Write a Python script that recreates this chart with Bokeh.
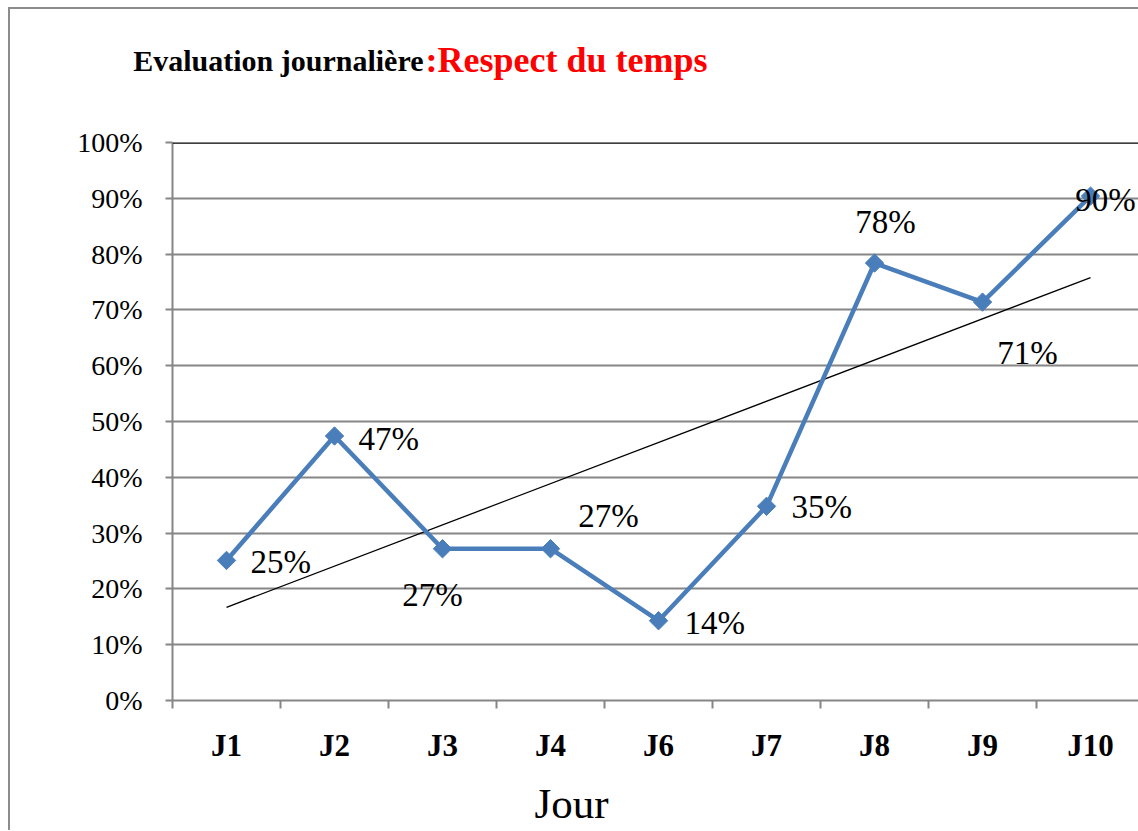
import numpy as np
from bokeh.plotting import figure
from bokeh.layouts import column
from bokeh.models import (ColumnDataSource, FixedTicker, NumeralTickFormatter,
                          Range1d, Span)
from bokeh.embed import file_html
from bokeh.resources import INLINE
from bokeh.core.properties import value

# ---- data ----
days = ["J1", "J2", "J3", "J4", "J6", "J7", "J8", "J9", "J10"]
rates = [0.251, 0.474, 0.272, 0.272, 0.143, 0.348, 0.784, 0.714, 0.904]
y_ticks = [0.0, 0.1, 0.2, 0.3, 0.4, 0.5, 0.6, 0.7, 0.8, 0.9, 1.0]
title_black = "Evaluation journalière"
title_red = ":Respect du temps"
x_title = "Jour"

# ---- label placement (pixels, style only) ----
label_dx = [24, 24, -10, 58, 26, 25, 11, 45, 15]
label_dy = [2, 3, 46, -33, 2, 1, -41, 51, 4]
label_align = ["left", "left", "center", "center", "left", "left", "center", "center", "center"]

SERIF = "Liberation Serif"
GRAY = "#868686"
BLUE = "#4a7ebb"

xs = list(range(len(days)))
labels = [f"{round(v * 100):.0f}%" for v in rates]
src = ColumnDataSource(dict(x=xs, y=rates, lab=labels, dx=label_dx,
                            dy=label_dy, al=label_align))

# linear trend line computed from the series
coef = np.polyfit(xs, rates, 1)
trend_y = [coef[0] * x + coef[1] for x in (xs[0], xs[-1])]

W = 1128


def no_align(fig):
    try:
        fig.frame_align = False
    except Exception:
        pass


def strip(height):
    f = figure(width=W, height=height, output_backend="svg", toolbar_location=None,
               x_range=Range1d(0, W), y_range=Range1d(0, height),
               x_axis_location=None, y_axis_location=None,
               min_border=0, min_border_left=0, min_border_right=0,
               min_border_top=0, min_border_bottom=0)
    f.grid.visible = False
    f.outline_line_color = None
    f.border_fill_color = "white"
    f.background_fill_color = "white"
    no_align(f)
    return f


# ---- title strip ----
TH = 113
t = strip(TH)
t.text(x=[413], y=[TH - 51], text=[title_black], text_align="right",
       text_baseline="middle", text_font=value(SERIF), text_font_style="bold",
       text_font_size="30px", text_color="black")
t.text(x=[415], y=[TH - 50], text=[title_red], text_align="left",
       text_baseline="middle", text_font=value(SERIF), text_font_style="bold",
       text_font_size="36px", text_color="#ff0000")

# ---- main chart ----
p = figure(width=W, height=648, output_backend="svg", toolbar_location=None,
           x_range=Range1d(-0.5, 8.444), y_range=Range1d(0, 1),
           min_border_left=162, min_border_right=0, min_border_top=20,
           min_border_bottom=70)
no_align(p)
p.outline_line_color = None
p.background_fill_color = "white"
p.border_fill_color = "white"

# grid
p.xgrid.visible = False
p.ygrid.ticker = FixedTicker(ticks=y_ticks)
p.ygrid.grid_line_color = GRAY
p.ygrid.grid_line_width = 2
p.add_layout(Span(location=1.0, dimension="width", line_color="black", line_width=2.5))

# y axis
p.yaxis.ticker = FixedTicker(ticks=y_ticks)
p.yaxis.formatter = NumeralTickFormatter(format="0%")
p.yaxis.axis_line_color = GRAY
p.yaxis.axis_line_width = 2
p.yaxis.major_tick_line_color = GRAY
p.yaxis.major_tick_line_width = 2
p.yaxis.major_tick_out = 7
p.yaxis.major_tick_in = 0
p.yaxis.minor_tick_line_color = None
p.yaxis.major_label_standoff = 23
p.yaxis.major_label_text_font = SERIF
p.yaxis.major_label_text_font_size = "28px"
p.yaxis.major_label_text_color = "black"

# x axis
p.xaxis.ticker = FixedTicker(ticks=xs, minor_ticks=[i - 0.5 for i in range(len(days) + 1)])
p.xaxis.major_label_overrides = {i: d for i, d in enumerate(days)}
p.xaxis.axis_line_color = GRAY
p.xaxis.axis_line_width = 2
p.xaxis.major_tick_line_color = None
p.xaxis.major_tick_out = 0
p.xaxis.major_tick_in = 0
p.xaxis.minor_tick_line_color = GRAY
p.xaxis.minor_tick_line_width = 2
p.xaxis.minor_tick_out = 8
p.xaxis.minor_tick_in = 0
p.xaxis.major_label_standoff = 19
p.xaxis.major_label_text_font = SERIF
p.xaxis.major_label_text_font_style = "bold"
p.xaxis.major_label_text_font_size = "31px"
p.xaxis.major_label_text_color = "black"

# trend line
p.line([xs[0], xs[-1]], trend_y, line_color="black", line_width=1.3)

# series
p.line("x", "y", source=src, line_color=BLUE, line_width=4.5)
p.scatter("x", "y", source=src, marker="square", angle=np.pi / 4, size=13,
          fill_color=BLUE, line_color=BLUE)

# data labels
p.text("x", "y", text="lab", source=src, x_offset="dx", y_offset="dy",
       text_align="al", text_baseline="middle", text_font=value(SERIF),
       text_font_size="33px", text_color="black")

# ---- axis title strip ----
BH = 60
b = strip(BH)
b.text(x=[561], y=[BH - 33], text=[x_title], text_align="center",
       text_baseline="middle", text_font=value(SERIF), text_font_size="43px",
       text_color="black")

layout = column(t, p, b, spacing=0,
                styles={"margin-left": "8px", "margin-top": "7px",
                        "border-left": "2px solid #8c8c8c",
                        "border-top": "2px solid #8c8c8c"})

open("out.html", "w").write(file_html(layout, INLINE))
